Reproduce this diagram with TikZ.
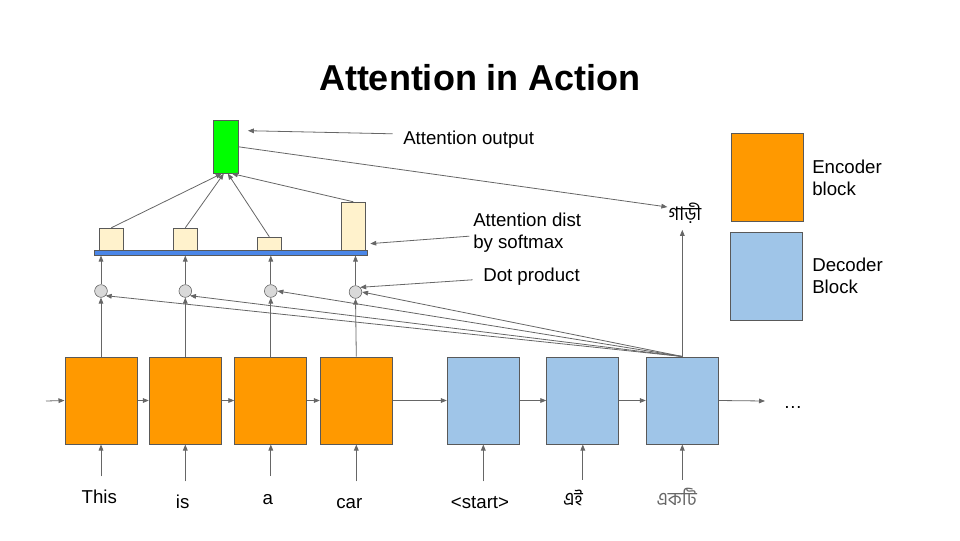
\documentclass[tikz,border=0pt]{standalone}
\usepackage{fontspec}
\setmainfont{Liberation Sans}
\newfontfamily\bengalifont[Script=Bengali]{Hind Siliguri}
\usetikzlibrary{arrows.meta}

\definecolor{encorange}{RGB}{255,153,0}
\definecolor{decblue}{RGB}{159,197,232}
\definecolor{barblue}{RGB}{74,134,232}
\definecolor{attncream}{RGB}{255,242,204}
\definecolor{outgreen}{RGB}{0,255,0}
\definecolor{linegray}{RGB}{102,102,102}
\definecolor{edgegray}{RGB}{89,89,89}
\definecolor{dotgray}{RGB}{217,217,217}

\tikzset{
  block/.style={draw=edgegray, line width=0.75pt, minimum width=54pt, minimum height=65.25pt, inner sep=0pt},
  encblock/.style={block, fill=encorange},
  decblock/.style={block, fill=decblue},
  dotnode/.style={circle, draw=edgegray, fill=dotgray, minimum size=9.5pt, inner sep=0pt},
  attnbar/.style={draw=edgegray, fill=attncream, minimum width=18pt, inner sep=0pt, anchor=south},
  arr/.style={draw=linegray, line width=0.6pt, -{Triangle[length=4.5pt,width=3.5pt]}},
  conn/.style={draw=linegray, line width=0.6pt},
  lbl/.style={inner sep=0.75pt, font=\fontsize{14}{16.8}\selectfont, align=left, anchor=west},
  word/.style={inner sep=0.75pt, font=\fontsize{14}{16.8}\selectfont, text height=12pt, anchor=base},
}

\begin{document}
\begin{tikzpicture}[x=0.75pt,y=0.75pt,yscale=-1,xscale=1]
\useasboundingbox (0,0) rectangle (960,540);

% Text Node
\node (title) at (480,78) [inner sep=0.75pt, font=\bfseries\fontsize{27}{32}\selectfont] {Attention in Action};

%Shape: Encoder blocks
\node (enc1) at (101,400.5) [encblock] {};
\node (enc2) at (185.3,400.5) [encblock] {};
\node (enc3) at (270.8,400.5) [encblock] {};
\node (enc4) at (356.3,400.5) [encblock] {};
%Shape: Decoder blocks
\node (dec1) at (483.3,400.5) [decblock] {};
\node (dec2) at (582.8,400.5) [decblock] {};
\node (dec3) at (682.3,400.5) [decblock] {};

%Shape: Legend
\node (legenc) at (767,177) [encblock, minimum height=66pt] {};
\node (legdec) at (766,276) [decblock, minimum height=66pt] {};
% Text Node
\node (legenctxt) at (811,178) [lbl] {Encoder\\block};
% Text Node
\node (legdectxt) at (811,276) [lbl] {Decoder\\Block};

%Shape: Dot product circles
\node (dot1) at (101,291) [dotnode] {};
\node (dot2) at (185.3,291) [dotnode] {};
\node (dot3) at (270.8,291) [dotnode] {};
\node (dot4) at (355.5,292) [dotnode] {};

%Shape: Softmax bar
\node (bar) at (230.5,252.8) [draw=edgegray, fill=barblue, minimum width=204.75pt, minimum height=3.75pt, inner sep=0pt] {};
%Shape: Attention weights
\node (att1) at (111.3,250.3) [attnbar, minimum height=16.5pt] {};
\node (att2) at (185.3,250.3) [attnbar, minimum height=16.5pt] {};
\node (att3) at (269.3,250.3) [attnbar, minimum height=9.75pt] {};
\node (att4) at (353.3,250.3) [attnbar, minimum height=36pt] {};

%Shape: Attention output
\node (attout) at (225.8,146.8) [draw=edgegray, fill=outgreen, minimum width=18.75pt, minimum height=39.75pt, inner sep=0pt] {};

% Text Node
\node (outlbl) at (402,140) [lbl] {Attention output};
% Text Node
\node (distlbl) at (472,232.5) [lbl] {Attention dist\\by softmax};
% Text Node
\node (dotlbl) at (482,276.5) [lbl] {Dot product};
% Text Node
\node (gari) at (685,213) [inner sep=0.75pt, font=\bengalifont\fontsize{14}{16.8}\selectfont] {গাড়ী};
% Text Node
\node (dots) at (793,407) [inner sep=0.75pt, font=\fontsize{14}{16.8}\selectfont] {…};

% Input words
\node (w1) at (99.3,503) [word] {This};
\node (w2) at (182.7,508) [word] {is};
\node (w3) at (267.7,504) [word] {a};
\node (w4) at (349.3,508) [word] {car};
\node (w5) at (480,508) [word] {<start>};
\node (w6) at (573,505) [word, font=\bengalifont\fontsize{14}{16.8}\selectfont] {এই};
\node (w7) at (676.7,505) [word, font=\bengalifont\fontsize{14}{16.8}\selectfont, text=linegray] {একটি};

% Recurrent chain
\coordinate (chainin) at (46,401);
\coordinate (chainout) at (765,401);
\draw [arr] (chainin) -- (enc1.west);
\draw [arr] (enc1) -- (enc2);
\draw [arr] (enc2) -- (enc3);
\draw [arr] (enc3) -- (enc4);
\draw [arr] (enc4) -- (dec1);
\draw [arr] (dec1) -- (dec2);
\draw [arr] (dec2) -- (dec3);
\draw [arr] (dec3.east) -- (chainout);

% Words into blocks
\draw [arr, shorten <=7pt] (enc1.south |- w1.north) -- (enc1.south);
\draw [arr, shorten <=7pt] (enc2.south |- w2.north) -- (enc2.south);
\draw [arr, shorten <=8pt] (enc3.south |- w3.north) -- (enc3.south);
\draw [arr, shorten <=7pt] (enc4.south |- w4.north) -- (enc4.south);
\draw [arr, shorten <=7pt] (dec1.south |- w5.north) -- (dec1.south);
\draw [arr, shorten <=6pt] (dec2.south |- w6.north) -- (dec2.south);
\draw [arr, shorten <=6pt] (dec3.south |- w7.north) -- (dec3.south);

% Encoder states to dot products
\draw [arr] (enc1.north) -- (dot1.south);
\draw [arr] (enc2.north) -- (dot2.south);
\draw [arr] (enc3.north) -- (dot3.south);
\draw [arr] (enc4.north) -- (dot4.south);
% Decoder state to dot products
\draw [arr] (dec3.north) -- (dot1.south east);
\draw [arr] (dec3.north) -- (dot2.south east);
\draw [arr] (dec3.north) -- (dot3.east);
\draw [arr] (dec3.north) -- (dot4.east);
% Dot products to softmax
\draw [arr] (dot1.north) -- (dot1.north |- bar.south);
\draw [arr] (dot2.north) -- (dot2.north |- bar.south);
\draw [arr] (dot3.north) -- (dot3.north |- bar.south);
\draw [arr] (dot4.north) -- (dot4.north |- bar.south);

% Weighted sum
\draw [arr] (att1.north) -- ([xshift=-3pt]attout.south);
\draw [arr] (att2.north) -- ([xshift=-1.5pt]attout.south);
\draw [arr] (att3.north) -- ([xshift=1.5pt]attout.south);
\draw [arr] (att4.north) -- ([xshift=4.5pt]attout.south);

% Output word
\draw [arr] (attout.east) -- ([yshift=-4.5pt]gari.west);
\draw [arr, shorten >=4pt] (dec3.north) -- (dec3.north |- gari.south);

% Label pointers (yshift is flipped by yscale=-1)
\draw [arr, shorten <=7pt] ([yshift=-4.5pt]outlbl.west) -- ([xshift=7pt,yshift=8pt]attout.north east);
\draw [arr, shorten <=2pt] ([yshift=2.6pt]distlbl.west) -- ([xshift=3.5pt,yshift=-5pt]att4.south east);
\draw [arr, shorten <=7pt] ([yshift=2pt]dotlbl.west) -- (dot4.north east);

\end{tikzpicture}
\end{document}
